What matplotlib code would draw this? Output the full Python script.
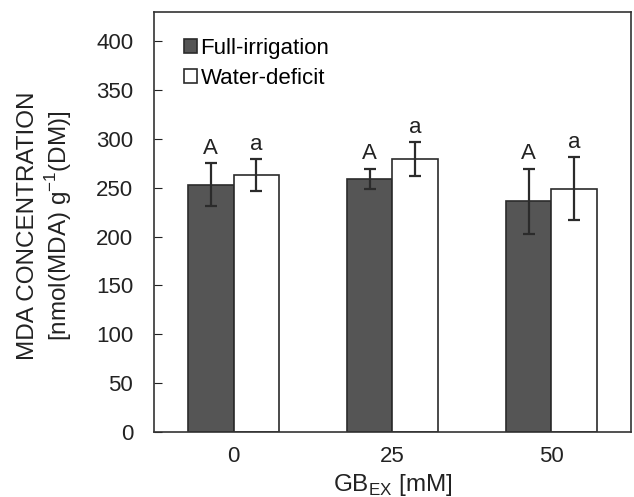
import numpy as np
import matplotlib.pyplot as plt

plt.rcParams['font.family'] = ['Liberation Sans', 'DejaVu Sans']

# Data
doses = ['0', '25', '50']
full_irr = [253, 259, 236]
full_err = [22, 10.5, 33]
deficit = [263, 279, 249]
deficit_err = [16, 17.5, 32]
full_letters = ['A', 'A', 'A']
deficit_letters = ['a', 'a', 'a']

x = np.arange(len(doses))
w = 0.286

fig = plt.figure(figsize=(6.34, 4.97), dpi=100)
ax = fig.add_axes([0.243, 0.131, 0.752, 0.845])

ekw = dict(ecolor='#2b2b2b', elinewidth=1.6, capsize=4.5, capthick=1.6)
ax.bar(x - w/2, full_irr, w, yerr=full_err, color='#555555',
       edgecolor='#2b2b2b', linewidth=1.2, error_kw=ekw, label='Full-irrigation')
ax.bar(x + w/2, deficit, w, yerr=deficit_err, color='white',
       edgecolor='#2b2b2b', linewidth=1.2, error_kw=ekw, label='Water-deficit')

for xs, vals, errs, letters in [(x - w/2, full_irr, full_err, full_letters),
                                (x + w/2, deficit, deficit_err, deficit_letters)]:
    for xi, v, e, t in zip(xs, vals, errs, letters):
        ax.annotate(t, (xi, v + e), xytext=(0, 7), textcoords='offset points',
                    ha='center', va='baseline', fontsize=16, color='#222222')

ax.set_xlim(-0.5, 2.5)
ax.set_ylim(0, 430)
ax.set_yticks(np.arange(0, 401, 50))
ax.set_xticks(x)
ax.set_xticklabels(doses)
ax.tick_params(axis='y', direction='in', length=6, labelsize=16, colors='#222222', pad=15)
ax.tick_params(axis='x', length=0, labelsize=16, colors='#222222', pad=10)
for s in ax.spines.values():
    s.set_color('#333333')
    s.set_linewidth(1.2)

ax.set_xlabel('GB$_{\\mathregular{EX}}$ [mM]', fontsize=17.5, color='#222222', labelpad=4)
ax.set_ylabel('MDA CONCENTRATION\n[nmol(MDA) g$^{\\mathregular{-1}}$(DM)]',
              fontsize=17.5, color='#222222', linespacing=1.15)
ax.yaxis.set_label_coords(-0.168, 0.49)

ax.legend(loc='upper left', bbox_to_anchor=(0.03, 0.975), frameon=False, fontsize=16,
          handlelength=0.6, handleheight=0.6, handletextpad=0.15, labelspacing=0.4,
          borderaxespad=0.3)

fig.savefig('out.png', dpi=100)
